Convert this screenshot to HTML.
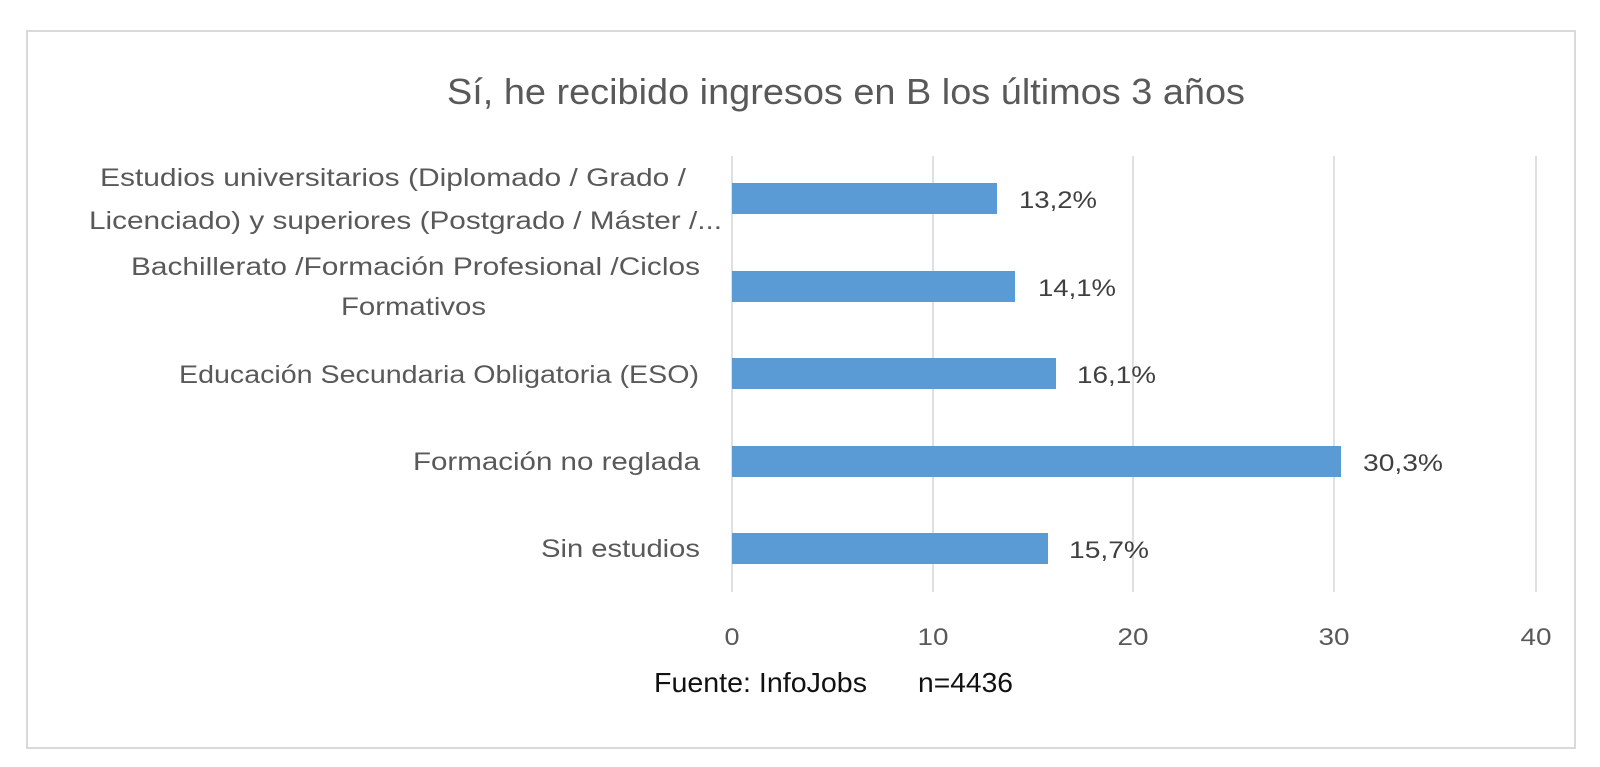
<!DOCTYPE html>
<html>
<head>
<meta charset="utf-8">
<style>
  html, body { margin: 0; padding: 0; background: #ffffff; }
  body { width: 1600px; height: 767px; overflow: hidden; }
  svg { display: block; }
  text { font-family: "Liberation Sans", "DejaVu Sans", sans-serif; }
</style>
</head>
<body>
<svg width="1600" height="767" viewBox="0 0 1600 767" xmlns="http://www.w3.org/2000/svg">
  <rect x="0" y="0" width="1600" height="767" fill="#ffffff"/>
  <!-- chart frame -->
  <rect x="27" y="31" width="1548" height="717" fill="#ffffff" stroke="#d9d9d9" stroke-width="2"/>

  <!-- title -->
  <text x="447" y="104" font-size="36" fill="#595959" textLength="798" lengthAdjust="spacingAndGlyphs">Sí, he recibido ingresos en B los últimos 3 años</text>

  <!-- gridlines -->
  <g stroke="#d9d9d9" stroke-width="1.6">
    <line x1="732" y1="156" x2="732" y2="592"/>
    <line x1="933" y1="156" x2="933" y2="592"/>
    <line x1="1133" y1="156" x2="1133" y2="592"/>
    <line x1="1334" y1="156" x2="1334" y2="592"/>
    <line x1="1536" y1="156" x2="1536" y2="592"/>
  </g>

  <!-- bars -->
  <g fill="#5b9bd5">
    <rect x="732" y="183" width="265" height="31"/>
    <rect x="732" y="271" width="283" height="31"/>
    <rect x="732" y="358" width="324" height="31"/>
    <rect x="732" y="446" width="609" height="31"/>
    <rect x="732" y="533" width="316" height="31"/>
  </g>

  <!-- category labels -->
  <g font-size="25" fill="#595959">
    <text x="100" y="186" textLength="586" lengthAdjust="spacingAndGlyphs">Estudios universitarios (Diplomado / Grado /</text>
    <text x="89" y="229" textLength="633" lengthAdjust="spacingAndGlyphs">Licenciado) y superiores (Postgrado / Máster /...</text>
    <text x="131" y="275" textLength="569" lengthAdjust="spacingAndGlyphs">Bachillerato /Formación Profesional /Ciclos</text>
    <text x="341" y="315" textLength="145" lengthAdjust="spacingAndGlyphs">Formativos</text>
    <text x="179" y="383" textLength="520" lengthAdjust="spacingAndGlyphs">Educación Secundaria Obligatoria (ESO)</text>
    <text x="413" y="470" textLength="287" lengthAdjust="spacingAndGlyphs">Formación no reglada</text>
    <text x="541" y="557" textLength="159" lengthAdjust="spacingAndGlyphs">Sin estudios</text>
  </g>

  <!-- data labels -->
  <g font-size="24" fill="#404040">
    <text x="1019" y="208" textLength="78" lengthAdjust="spacingAndGlyphs">13,2%</text>
    <text x="1038" y="296" textLength="78" lengthAdjust="spacingAndGlyphs">14,1%</text>
    <text x="1077" y="383" textLength="79" lengthAdjust="spacingAndGlyphs">16,1%</text>
    <text x="1363" y="471" textLength="80" lengthAdjust="spacingAndGlyphs">30,3%</text>
    <text x="1069" y="558" textLength="80" lengthAdjust="spacingAndGlyphs">15,7%</text>
  </g>

  <!-- axis tick labels -->
  <g font-size="24" fill="#595959">
    <text x="724.5" y="645" textLength="15" lengthAdjust="spacingAndGlyphs">0</text>
    <text x="917.5" y="645" textLength="31" lengthAdjust="spacingAndGlyphs">10</text>
    <text x="1117.5" y="645" textLength="31" lengthAdjust="spacingAndGlyphs">20</text>
    <text x="1318.5" y="645" textLength="31" lengthAdjust="spacingAndGlyphs">30</text>
    <text x="1520.5" y="645" textLength="31" lengthAdjust="spacingAndGlyphs">40</text>
  </g>

  <!-- footer -->
  <g font-size="28" fill="#111111">
    <text x="654" y="692" textLength="213" lengthAdjust="spacingAndGlyphs">Fuente: InfoJobs</text>
    <text x="918" y="692" textLength="95" lengthAdjust="spacingAndGlyphs">n=4436</text>
  </g>
</svg>
</body>
</html>
